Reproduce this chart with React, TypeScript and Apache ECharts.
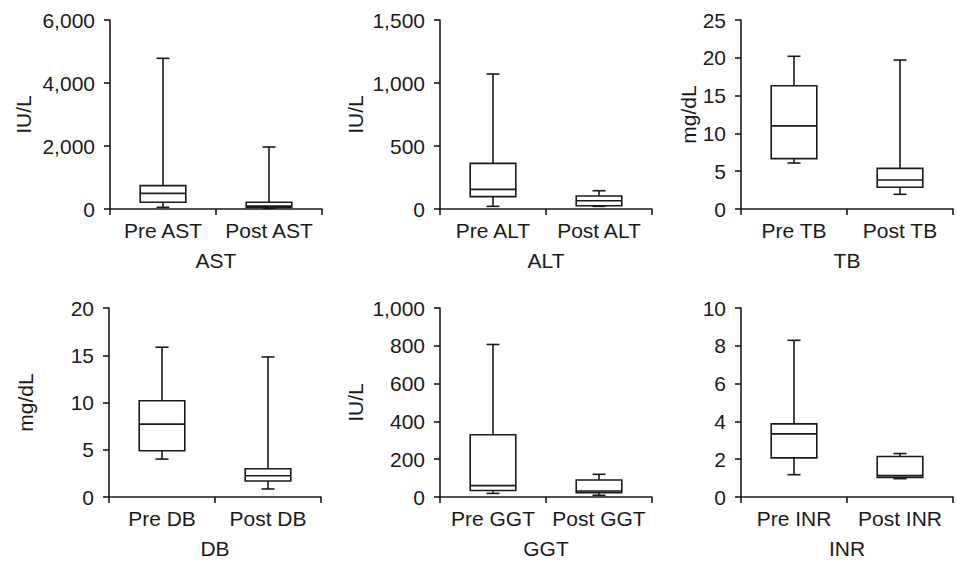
import React, { useEffect, useRef } from "react";
import * as echarts from "echarts";

// [min, q1, median, q3, max] per category
const astCats = ["Pre AST", "Post AST"];
const astVals = [
  [53, 212, 497, 741, 4783],
  [20, 53, 90, 212, 1968],
];
const altCats = ["Pre ALT", "Post ALT"];
const altVals = [
  [21, 98, 156, 362, 1071],
  [21, 26, 66, 103, 145],
];
const tbCats = ["Pre TB", "Post TB"];
const tbVals = [
  [6.08, 6.66, 11.0, 16.3, 20.2],
  [1.94, 2.87, 3.84, 5.38, 19.7],
];
const dbCats = ["Pre DB", "Post DB"];
const dbVals = [
  [4.01, 4.89, 7.71, 10.18, 15.85],
  [0.85, 1.69, 2.25, 2.99, 14.82],
];
const ggtCats = ["Pre GGT", "Post GGT"];
const ggtVals = [
  [19, 34, 60, 329, 807],
  [9, 23, 32, 90, 120],
];
const inrCats = ["Pre INR", "Post INR"];
const inrVals = [
  [1.18, 2.07, 3.34, 3.87, 8.29],
  [0.97, 1.04, 1.13, 2.14, 2.3],
];

const panelNames = ["AST", "ALT", "TB", "DB", "GGT", "INR"];
const panelUnits = ["IU/L", "IU/L", "mg/dL", "mg/dL", "IU/L", ""];
const panelMax = [6000, 1500, 25, 20, 1000, 10];
const panelInterval = [2000, 500, 5, 5, 200, 2];

const FONT = "'Liberation Sans', Arial, sans-serif";
const INK = "#1a1a1a";
const FS = 21;

export default function App() {
  const ref = useRef<HTMLDivElement>(null);
  useEffect(() => {
    if (!ref.current) return;
    const chart = echarts.init(ref.current, undefined, { renderer: "svg" });
    const cats = [astCats, altCats, tbCats, dbCats, ggtCats, inrCats];
    const vals = [astVals, altVals, tbVals, dbVals, ggtVals, inrVals];
    const lefts = [110, 440, 741, 109, 440, 741];
    const tops = [20, 20, 20, 308, 308, 308];
    const nameGaps = [76, 74, 42, 73, 74, 40];

    const grids: any[] = [];
    const xAxes: any[] = [];
    const yAxes: any[] = [];
    const series: any[] = [];
    const lineStyle = { stroke: INK, lineWidth: 1.6 };

    for (let i = 0; i < 6; i++) {
      grids.push({ left: lefts[i], top: tops[i], width: 212, height: 189 });
      xAxes.push({
        type: "category",
        gridIndex: i,
        data: cats[i],
        boundaryGap: true,
        name: panelNames[i],
        nameLocation: "middle",
        nameGap: 41,
        nameTextStyle: { fontFamily: FONT, fontSize: FS, color: INK },
        axisLine: { lineStyle: { color: INK, width: 1.6 } },
        axisTick: { show: true, length: 6, lineStyle: { color: INK, width: 1.6 } },
        axisLabel: {
          fontFamily: FONT,
          fontSize: FS,
          color: INK,
          margin: 11,
          interval: 0,
          hideOverlap: false,
        },
        splitLine: { show: false },
      });
      yAxes.push({
        type: "value",
        gridIndex: i,
        min: 0,
        max: panelMax[i],
        interval: panelInterval[i],
        name: panelUnits[i],
        nameLocation: "middle",
        nameGap: nameGaps[i],
        nameTextStyle: { fontFamily: FONT, fontSize: FS, color: INK },
        axisLine: { show: true, lineStyle: { color: INK, width: 1.6 } },
        axisTick: { show: true, length: 6, lineStyle: { color: INK, width: 1.6 } },
        axisLabel: {
          fontFamily: FONT,
          fontSize: FS,
          color: INK,
          margin: 15,
          formatter: (v: number) => v.toLocaleString("en-US"),
        },
        splitLine: { show: false },
      });
      series.push({
        type: "custom",
        xAxisIndex: i,
        yAxisIndex: i,
        encode: { x: 0, y: [1, 2, 3, 4, 5] },
        data: vals[i].map((v, k) => [k, ...v]),
        renderItem: (params: any, api: any) => {
          const x = api.value(0);
          const lo = api.coord([x, api.value(1)]);
          const q1 = api.coord([x, api.value(2)]);
          const med = api.coord([x, api.value(3)]);
          const q3 = api.coord([x, api.value(4)]);
          const hi = api.coord([x, api.value(5)]);
          const bw = api.size([1, 0])[0] * 0.43;
          const cw = 13;
          const cx = lo[0];
          return {
            type: "group",
            children: [
              { type: "line", shape: { x1: cx, y1: hi[1], x2: cx, y2: q3[1] }, style: lineStyle },
              { type: "line", shape: { x1: cx, y1: q1[1], x2: cx, y2: lo[1] }, style: lineStyle },
              { type: "line", shape: { x1: cx - cw / 2, y1: hi[1], x2: cx + cw / 2, y2: hi[1] }, style: lineStyle },
              { type: "line", shape: { x1: cx - cw / 2, y1: lo[1], x2: cx + cw / 2, y2: lo[1] }, style: lineStyle },
              {
                type: "rect",
                shape: { x: cx - bw / 2, y: q3[1], width: bw, height: q1[1] - q3[1] },
                style: { fill: "#fff", stroke: INK, lineWidth: 1.6 },
              },
              { type: "line", shape: { x1: cx - bw / 2, y1: med[1], x2: cx + bw / 2, y2: med[1] }, style: lineStyle },
            ],
          };
        },
      });
    }

    chart.setOption({
      animation: false,
      backgroundColor: "#fff",
      grid: grids,
      xAxis: xAxes,
      yAxis: yAxes,
      series,
    });
    return () => chart.dispose();
  }, []);
  return (
    <div
      ref={ref}
      style={{ position: "fixed", left: 0, top: 0, width: 957, height: 562 }}
    />
  );
}
